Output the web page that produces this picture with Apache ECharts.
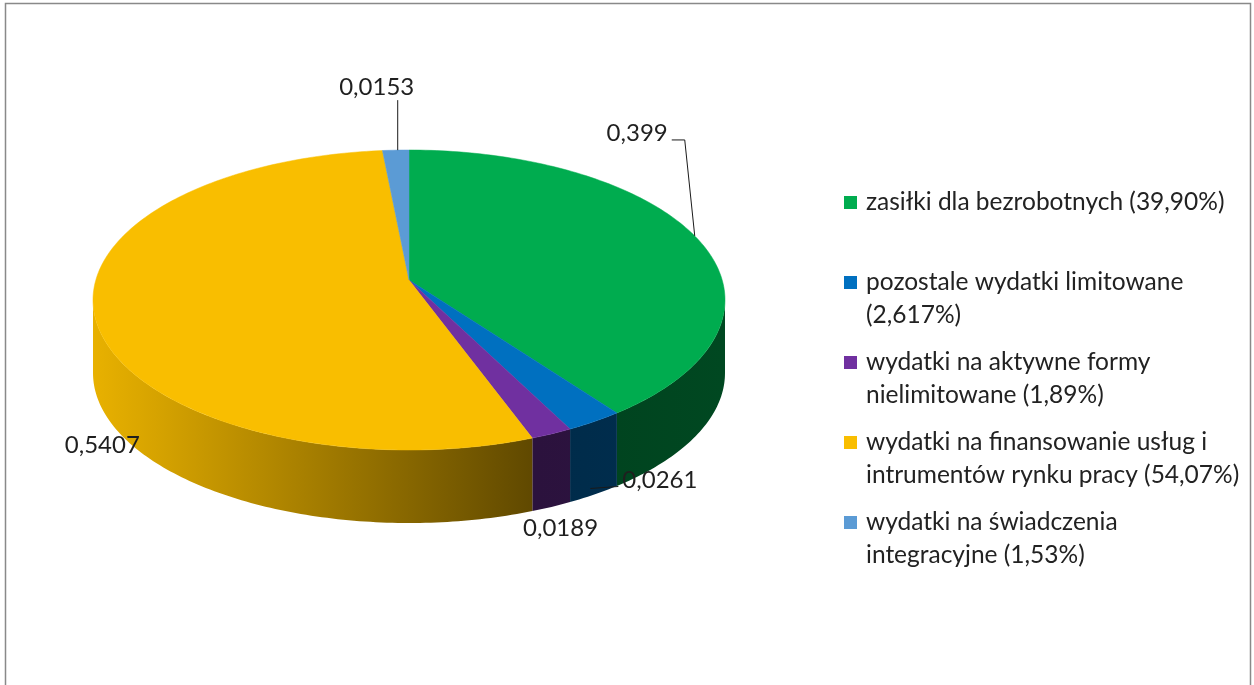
<!DOCTYPE html>
<html>
<head>
<meta charset="utf-8">
<script src="https://cdn.jsdelivr.net/npm/echarts@6/dist/echarts.min.js"></script>
<style>
  html, body { margin: 0; padding: 0; background: #fff; }
  #chart { width: 1254px; height: 685px; }
</style>
</head>
<body>
<div id="chart"></div>
<script>
// dane
const categories = [
  'zasiłki dla bezrobotnych (39,90%)',
  'pozostale wydatki limitowane\n(2,617%)',
  'wydatki na aktywne formy\nnielimitowane (1,89%)',
  'wydatki na finansowanie usług i\nintrumentów rynku pracy (54,07%)',
  'wydatki na świadczenia\nintegracyjne (1,53%)'
];
const values = [0.399, 0.0261, 0.0189, 0.5407, 0.0153];
const colors = ['#00AC4F', '#0070C0', '#7030A0', '#F9BE00', '#5B9BD5'];

// geometria "3D" (elipsa + perspektywa)
const cx = 409, cy = 300, rx = 316, ry = 150, depth = 73;
const persp = 0.875;          // sciskanie katow z tylu tortu
const apexY = cy - 20;        // srodek tortu po rzutowaniu
// przesuniecia etykiet wzgledem punktu na krawedzi [dx, dy, align]
const labelOffsets = [[-27, -103, 'right'], [28, 59, 'left'], [9, 94, 'center'], [8, 131, 'center'], [-19, -63, 'center']];
const leaders = [[[0, 0], [-10, -96], [-23, -96]], [[-4, 67], [24, 65]], null, null, [[2, 0], [2, -50]]];

const total = values.reduce((a, b) => a + b, 0);
const starts = [], ends = [];
let acc = 0;
values.forEach(v => {
  starts.push(acc / total * Math.PI * 2);
  acc += v;
  ends.push(acc / total * Math.PI * 2);
});

function proj(a) {
  return 2 * Math.atan2(persp * Math.sin(a / 2), Math.cos(a / 2));
}
function edge(a) {
  return [cx + rx * Math.sin(a), cy - ry * Math.cos(a)];
}
function arc(a0, a1) {
  const pts = [];
  const n = Math.max(2, Math.ceil((a1 - a0) / (Math.PI / 180)));
  for (let j = 0; j <= n; j++) pts.push(edge(a0 + (a1 - a0) * j / n));
  return pts;
}
function shade(hex, f) {
  const c = parseInt(hex.slice(1), 16);
  const r = Math.round(((c >> 16) & 255) * f), g = Math.round(((c >> 8) & 255) * f), b = Math.round((c & 255) * f);
  return 'rgb(' + r + ',' + g + ',' + b + ')';
}
function wallFill(hex) {
  return new echarts.graphic.LinearGradient(cx - rx, 0, cx + rx, 0, [
    { offset: 0, color: shade(hex, 0.93) },
    { offset: 0.1, color: shade(hex, 0.86) },
    { offset: 0.7, color: shade(hex, 0.38) },
    { offset: 1, color: shade(hex, 0.42) }
  ], true);
}

const chart = echarts.init(document.getElementById('chart'), null, { renderer: 'canvas' });

const option = {
  backgroundColor: '#fff',
  animation: false,
  graphic: [{
    type: 'rect', silent: true,
    shape: { x: 5.5, y: 3.5, width: 1245, height: 700 },
    style: { fill: 'none', stroke: '#898989', lineWidth: 1.5 }
  }],
  legend: {
    orient: 'vertical',
    left: 839,
    top: 186,
    itemGap: 14,
    itemWidth: 0,
    itemHeight: 0,
    padding: 0,
    selectedMode: false,
    data: categories,
    formatter: function (name) {
      const idx = categories.indexOf(name);
      const lines = name.split('\n');
      if (lines.length < 2) lines.push('');
      return lines.map((l, i) => (i === 0 ? '{s' + idx + '|}' : '{sp|}') + (l ? '{t|' + l + '}' : '')).join('\n');
    },
    textStyle: {
      fontFamily: 'Lato', fontSize: 24.5, color: '#222', lineHeight: 33,
      rich: Object.assign({
        sp: { width: 13, height: 13, lineHeight: 33 },
        t: { fontFamily: 'Lato', fontSize: 24.5, color: '#222', lineHeight: 33, padding: [0, 0, 0, 9] }
      }, Object.fromEntries(colors.map((c, i) => ['s' + i, { width: 13, height: 13, lineHeight: 33, backgroundColor: c }])))
    }
  },
  series: [
    {
      // tylko dla legendy
      type: 'pie',
      center: [-50, -50],
      radius: [0, 1],
      silent: true,
      label: { show: false },
      labelLine: { show: false },
      data: categories.map((n, i) => ({ name: n, value: values[i], itemStyle: { color: colors[i] } }))
    },
    {
      type: 'custom',
      coordinateSystem: 'none',
      silent: true,
      data: values.map((v, i) => [i, v]),
      renderItem: function (params, api) {
        const i = params.dataIndex;
        const a0 = proj(starts[i]), a1 = proj(ends[i]);
        const children = [];
        const w0 = Math.max(a0, Math.PI / 2), w1 = Math.min(a1, Math.PI * 1.5);
        if (w1 > w0) {
          const top = arc(w0, w1);
          const bot = top.map(p => [p[0], p[1] + depth]).reverse();
          children.push({ type: 'polygon', z2: 1, shape: { points: top.concat(bot) }, style: { fill: wallFill(colors[i]) } });
        }
        const face = [[cx, apexY]].concat(arc(a0, a1));
        children.push({ type: 'polygon', z2: 2, shape: { points: face }, style: { fill: colors[i], stroke: colors[i], lineWidth: 0.5 } });

        const anchor = edge(proj((starts[i] + ends[i]) / 2));
        const off = labelOffsets[i];
        if (leaders[i]) {
          children.push({
            type: 'polyline', z2: 5,
            shape: { points: leaders[i].map(p => [anchor[0] + p[0], anchor[1] + p[1]]) },
            style: { stroke: '#1a1a1a', lineWidth: 1, fill: null }
          });
        }
        children.push({
          type: 'text', z2: 6,
          x: anchor[0] + off[0], y: anchor[1] + off[1],
          style: {
            text: String(api.value(1)).replace('.', ','),
            fontFamily: 'Lato', fontSize: 24, fill: '#1f1f1f',
            align: off[2], verticalAlign: 'middle'
          }
        });
        return { type: 'group', children: children };
      }
    }
  ]
};

chart.setOption(option);
</script>
</body>
</html>
